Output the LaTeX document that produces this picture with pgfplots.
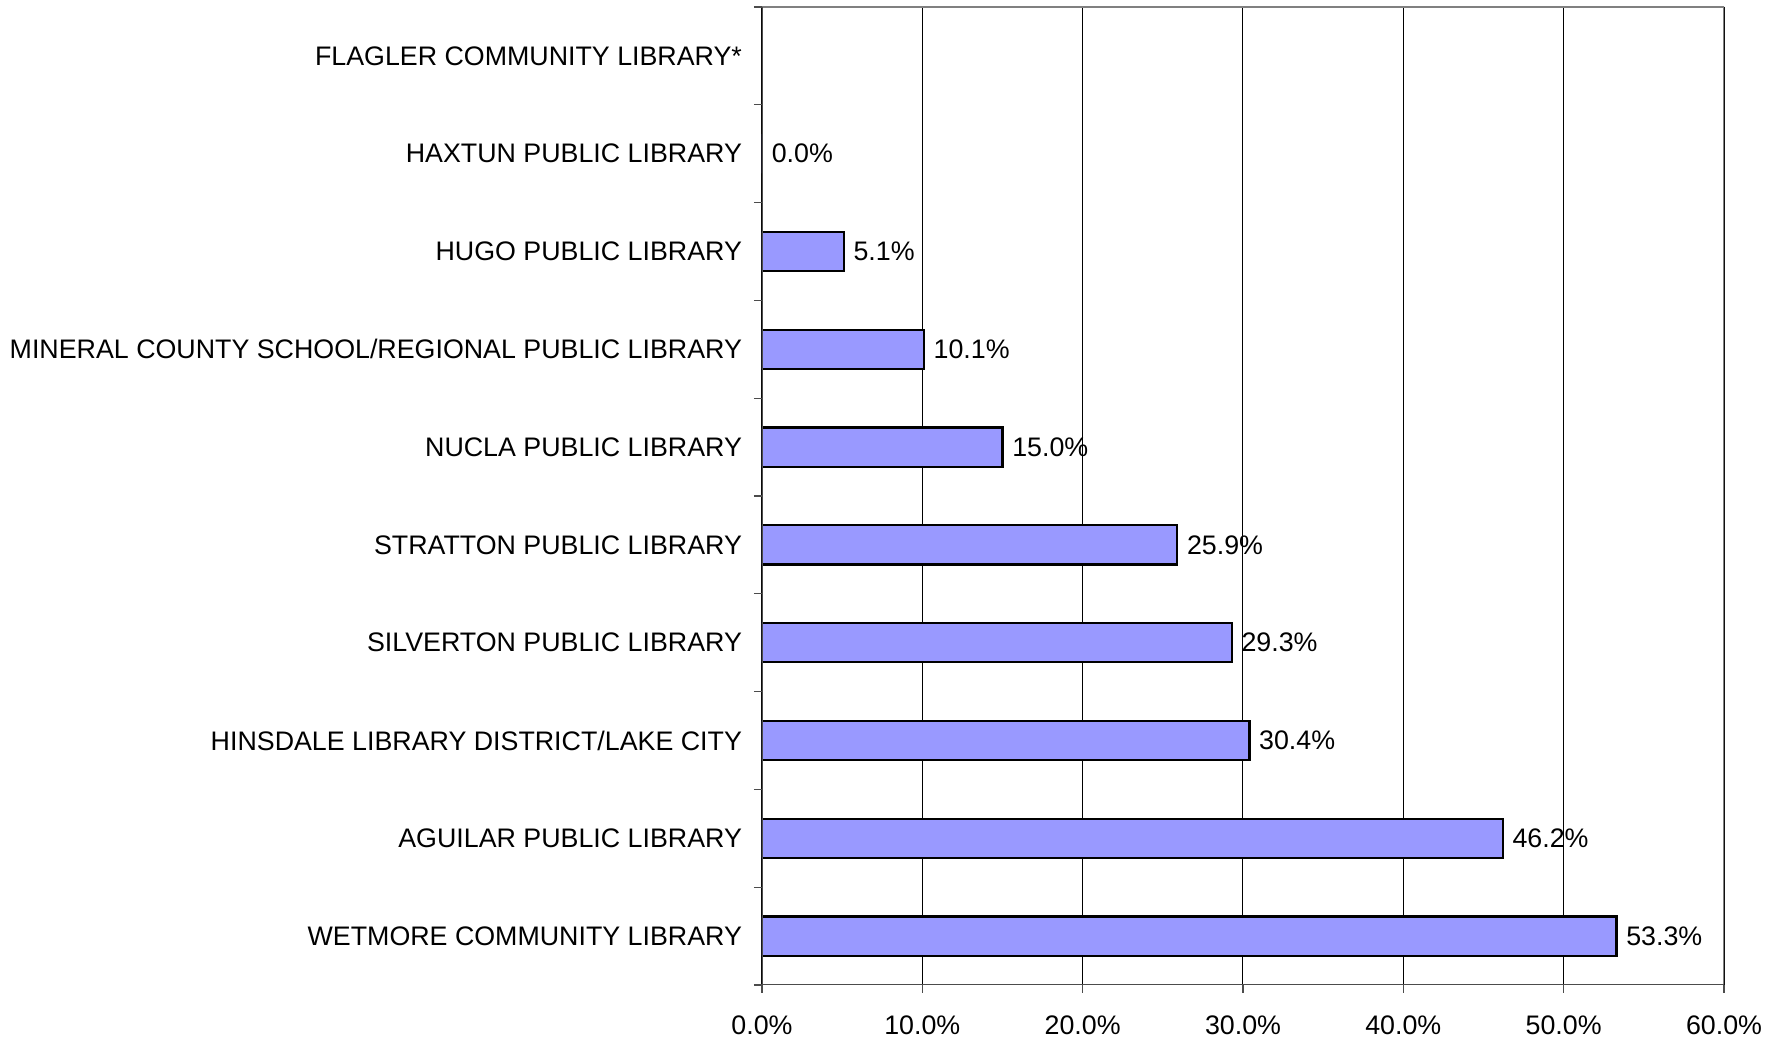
\documentclass[border=0pt]{standalone}
\usepackage{pgfplots}
\pgfplotsset{compat=1.18}
\usepackage{fontspec}
\setmainfont{Liberation Sans}
\definecolor{barblue}{RGB}{153,153,255}
\begin{document}
\begin{tikzpicture}
\begin{axis}[
    scale only axis,
    width=481pt, height=489pt,
    xmin=0, xmax=60,
    ymin=-0.5, ymax=9.5,
    xtick={0,10,...,60},
    xticklabel={\pgfmathprintnumber[fixed,fixed zerofill,precision=1]{\tick}\%},
    /pgf/number format/assume math mode=true,
    ytick={-0.5,0.5,...,9.5},
    yticklabels={},
    extra y ticks={0,1,...,9},
    extra y tick labels={WETMORE COMMUNITY LIBRARY, AGUILAR PUBLIC LIBRARY,
        HINSDALE LIBRARY DISTRICT/LAKE CITY, SILVERTON PUBLIC LIBRARY,
        STRATTON PUBLIC LIBRARY, NUCLA PUBLIC LIBRARY,
        MINERAL COUNTY SCHOOL/REGIONAL PUBLIC LIBRARY, HUGO PUBLIC LIBRARY,
        HAXTUN PUBLIC LIBRARY, FLAGLER COMMUNITY LIBRARY*},
    extra y tick style={major tick length=0pt, grid=none},
    xtick pos=bottom, ytick pos=left,
    tick align=outside,
    major tick length=4pt,
    tick style={black!70, line width=0.6pt},
    xmajorgrids,
    grid style={black, line width=0.5pt},
    axis line style={draw=none},
    tick label style={font=\fontsize{13.4}{16}\selectfont, black},
    extra y tick style={yticklabel style={xshift=-6.5pt}},
    xticklabel style={yshift=-8pt},
    xbar,
    bar width=0.4,
    nodes near coords={\pgfmathprintnumber[fixed,fixed zerofill,precision=1]{\pgfplotspointmeta}\%},
    nodes near coords align={horizontal},
    every node near coord/.append style={font=\fontsize{13.4}{16}\selectfont, black, xshift=1pt},
    point meta=x,
  ]
  \addplot[fill=barblue, draw=black, line width=1.1pt] coordinates {
    (53.3,0) (46.2,1) (30.4,2) (29.3,3) (25.9,4)
    (15.0,5) (10.1,6) (5.1,7) (0.0,8)
  };
  \draw[gray, line width=0.8pt] (rel axis cs:0,1) -- (rel axis cs:1,1) -- (rel axis cs:1,0);
  \draw[black!70, line width=0.8pt] (rel axis cs:0,1) -- (rel axis cs:0,0) -- (rel axis cs:1,0);
\end{axis}
\pgfresetboundingbox
\path (current axis.south west) ++(-381pt,-26.5pt) coordinate (bbA);
\path (current axis.north east) ++(29pt,3.5pt) coordinate (bbB);
\useasboundingbox (bbA) rectangle (bbB);
\end{tikzpicture}
\end{document}
